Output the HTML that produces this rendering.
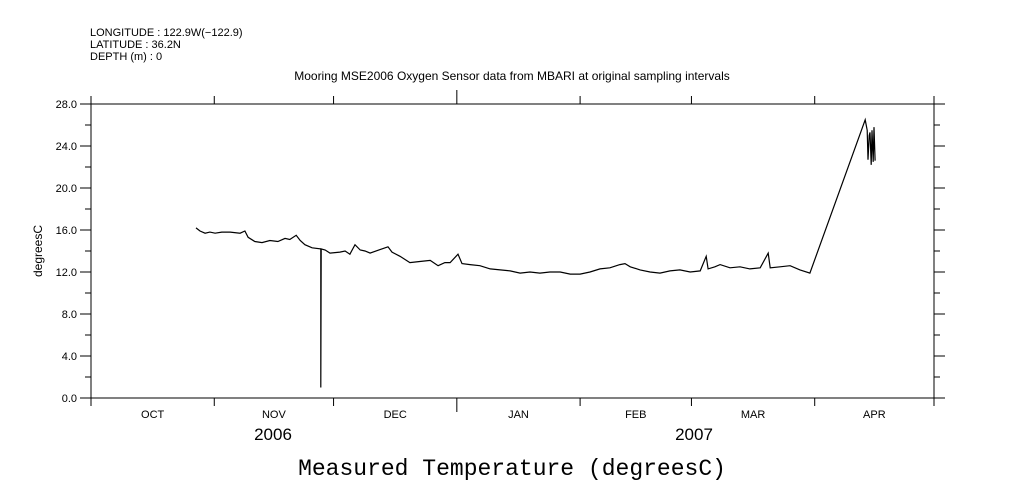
<!DOCTYPE html>
<html><head><meta charset="utf-8"><style>
body{margin:0;background:#fff;}
svg{display:block;font-family:"Liberation Sans",sans-serif;}
</style></head><body>
<svg id="chart" width="1009" height="504">
<g font-size="11">
<text x="90" y="36">LONGITUDE : 122.9W(−122.9)</text>
<text x="90" y="48">LATITUDE : 36.2N</text>
<text x="90" y="60">DEPTH (m) : 0</text>
</g>
<text x="512" y="80" text-anchor="middle" font-size="12">Mooring MSE2006 Oxygen Sensor data from MBARI at original sampling intervals</text>
<text transform="translate(42,251) rotate(-90)" text-anchor="middle" font-size="12">degreesC</text>
<text x="273" y="440" text-anchor="middle" font-size="17">2006</text>
<text x="694" y="440" text-anchor="middle" font-size="17">2007</text>
<text x="512" y="475" text-anchor="middle" font-size="23" font-family="Liberation Mono, monospace">Measured Temperature (degreesC)</text>
<rect x="91" y="104" width="843" height="294" fill="none" stroke="#000" stroke-width="1"/>
<g id="axes"></g>
<path id="series" fill="none" stroke="#000" stroke-width="1.2"/>
</svg>
<script>
const yTicks=[0,4,8,12,16,20,24,28];
const yTickLabels=["0.0","4.0","8.0","12.0","16.0","20.0","24.0","28.0"];
const monthStarts=[0,31,61,92,123,151,182,212];
const monthLabels=["OCT","NOV","DEC","JAN","FEB","MAR","APR"];
const days=[26.4,27.4,28.7,29.9,31.2,32.9,35.0,37.5,38.7,39.5,41.2,43.0,45.0,47.0,48.8,50.0,51.6,52.6,53.8,55.6,57.8,57.8,57.9,58.9,60.1,62.6,63.9,65.1,66.4,67.7,68.9,70.2,74.7,75.7,77.7,80.2,82.7,85.3,87.3,89.0,90.3,92.3,93.3,95.3,97.8,100.4,102.9,105.4,107.9,110.4,112.9,115.4,118.0,120.5,123.0,125.5,128.0,130.5,133.0,134.3,135.6,138.1,140.6,143.1,145.6,148.1,150.7,153.2,154.7,155.2,156.9,158.2,160.7,163.2,165.7,168.3,170.3,170.8,173.3,175.8,178.3,180.8,194.7,195.2,195.4,195.7,195.9,196.2,196.4,196.7,196.9,197.2];
const temps=[16.2,15.9,15.7,15.8,15.7,15.8,15.8,15.7,15.9,15.3,14.9,14.8,15.0,14.9,15.2,15.1,15.5,15.0,14.6,14.3,14.2,1.0,14.2,14.1,13.8,13.9,14.0,13.7,14.6,14.1,14.0,13.8,14.4,13.9,13.5,12.9,13.0,13.1,12.6,12.9,12.9,13.7,12.8,12.7,12.6,12.3,12.2,12.1,11.9,12.0,11.9,12.0,12.0,11.8,11.8,12.0,12.3,12.4,12.7,12.8,12.5,12.2,12.0,11.9,12.1,12.2,12.0,12.1,13.5,12.3,12.5,12.7,12.4,12.5,12.3,12.4,13.8,12.4,12.5,12.6,12.2,11.9,26.5,25.5,22.7,25.0,25.3,22.2,25.5,22.5,25.8,22.6];
const X0=91,X1=934,Y0=398,Y1=104;
const xs=d=>X0+d*(X1-X0)/212;
const ys=v=>Y0-v*(Y0-Y1)/28;
const NS="http://www.w3.org/2000/svg";
const ax=document.getElementById('axes');
function ln(x1,y1,x2,y2,name){const l=document.createElementNS(NS,'line');
l.setAttribute('x1',x1);l.setAttribute('y1',y1);l.setAttribute('x2',x2);l.setAttribute('y2',y2);l.setAttribute('stroke','#000');


ax.appendChild(l);}
function tx(x,y,s,anchor,name){const t=document.createElementNS(NS,'text');
t.setAttribute('x',x);t.setAttribute('y',y);t.setAttribute('font-size','11');t.setAttribute('text-anchor',anchor);t.textContent=s;


ax.appendChild(t);}
yTicks.forEach((v,i)=>{const y=ys(v);ln(X0-11,y,X0,y,'y-tick');ln(X1,y,X1+11,y,'y-tick-right');
tx(X0-14,y+4,yTickLabels[i],'end','y-tick-label');
if(i<yTicks.length-1){const m=ys(v+2);ln(X0-6,m,X0,m,'y-minor-tick');ln(X1,m,X1+6,m,'y-minor-tick-right');}});
monthStarts.forEach((d,i)=>{const x=xs(d);const big=(d===92)?14:8;ln(x,Y0,x,Y0+big,'x-tick');ln(x,Y1-big,x,Y1,'x-tick-top');
if(i<monthLabels.length)tx((xs(d)+xs(monthStarts[i+1]))/2,418,monthLabels[i],'middle','month-label');});
let p='';days.forEach((d,i)=>{p+=(i?'L':'M')+xs(d).toFixed(1)+' '+ys(temps[i]).toFixed(1);});
document.getElementById('series').setAttribute('d',p);
</script>
</body></html>
